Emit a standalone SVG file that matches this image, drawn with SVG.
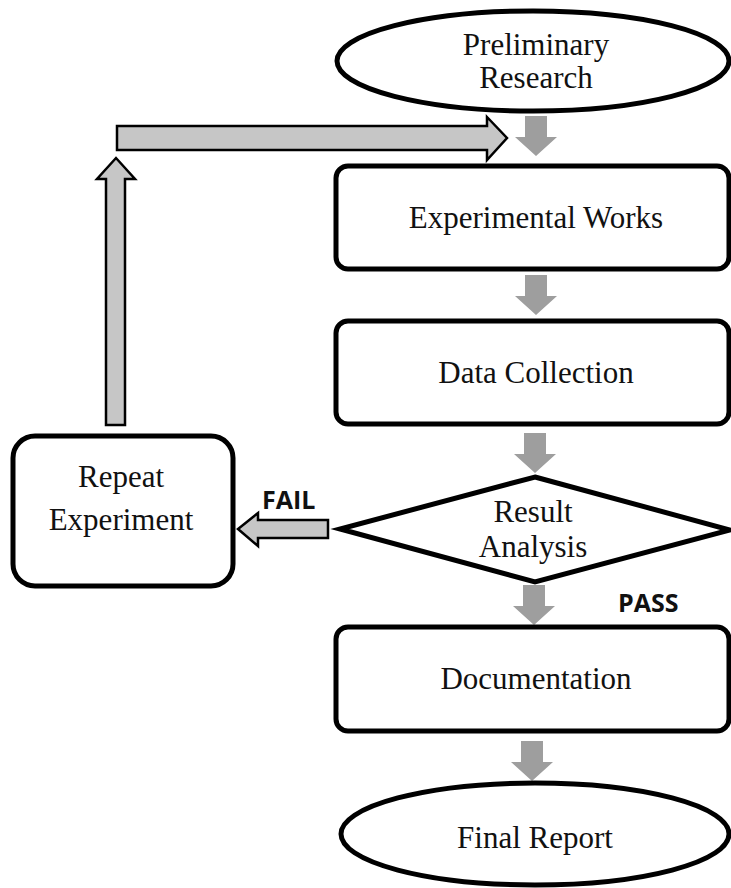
<svg xmlns="http://www.w3.org/2000/svg" width="731" height="888" viewBox="0 0 731 888">
<style>
.node{fill:#fff;stroke:#000;stroke-width:5}
.lbl{font-family:"Liberation Serif","Times New Roman",serif;font-size:31px;fill:#111;text-anchor:middle}
.tag{font-family:"Open Sans","Liberation Sans",sans-serif;font-weight:bold;font-size:25px;fill:#111}
.big{fill:#c6c6c6;stroke:#000;stroke-width:2.5;stroke-linejoin:miter}
.small{fill:#9e9e9e}
</style>
<defs>
<path id="down" d="M-11,0 L11,0 L11,21 L21,21 L0,40 L-21,21 L-11,21 Z"/>
</defs>
<rect width="731" height="888" fill="#fff"/>
<g id="connectors">
<path class="big" d="M117,126 L487,126 L487,117 L507,138 L487,160 L487,150 L117,150 Z"/>
<path class="big" d="M106,425 L106,179 L97,179 L116,158 L135,179 L125,179 L125,425 Z"/>
<path class="big" d="M328,520 L258,520 L258,513 L238,529 L258,546 L258,538 L328,538 Z"/>
<use href="#down" class="small" x="536" y="116"/>
<use href="#down" class="small" x="536" y="275"/>
<use href="#down" class="small" x="535" y="433"/>
<use href="#down" class="small" x="534" y="585"/>
<use href="#down" class="small" x="532" y="741"/>
<text class="tag" x="262" y="509">FAIL</text>
<text class="tag" x="618" y="612">PASS</text>
</g>
<g id="preliminary">
<ellipse class="node" cx="533" cy="61" rx="196" ry="50"/>
<text class="lbl" x="536" y="55">Preliminary</text>
<text class="lbl" x="536" y="88">Research</text>
</g>
<g id="experimental">
<rect class="node" x="336" y="166" width="393" height="103" rx="12"/>
<text class="lbl" x="536" y="228">Experimental Works</text>
</g>
<g id="datacollection">
<rect class="node" x="336" y="321" width="393" height="103" rx="12"/>
<text class="lbl" x="536" y="383">Data Collection</text>
</g>
<g id="result">
<polygon class="node" points="535,477 730,530 535,582 340,529"/>
<text class="lbl" x="533" y="522">Result</text>
<text class="lbl" x="533" y="557">Analysis</text>
</g>
<g id="repeat">
<rect class="node" x="13" y="436" width="220" height="150" rx="22"/>
<text class="lbl" x="121" y="487">Repeat</text>
<text class="lbl" x="121" y="530">Experiment</text>
</g>
<g id="documentation">
<rect class="node" x="336" y="627" width="393" height="104" rx="12"/>
<text class="lbl" x="536" y="689">Documentation</text>
</g>
<g id="finalreport">
<ellipse class="node" cx="535" cy="834" rx="194" ry="51"/>
<text class="lbl" x="535" y="848">Final Report</text>
</g>
</svg>
